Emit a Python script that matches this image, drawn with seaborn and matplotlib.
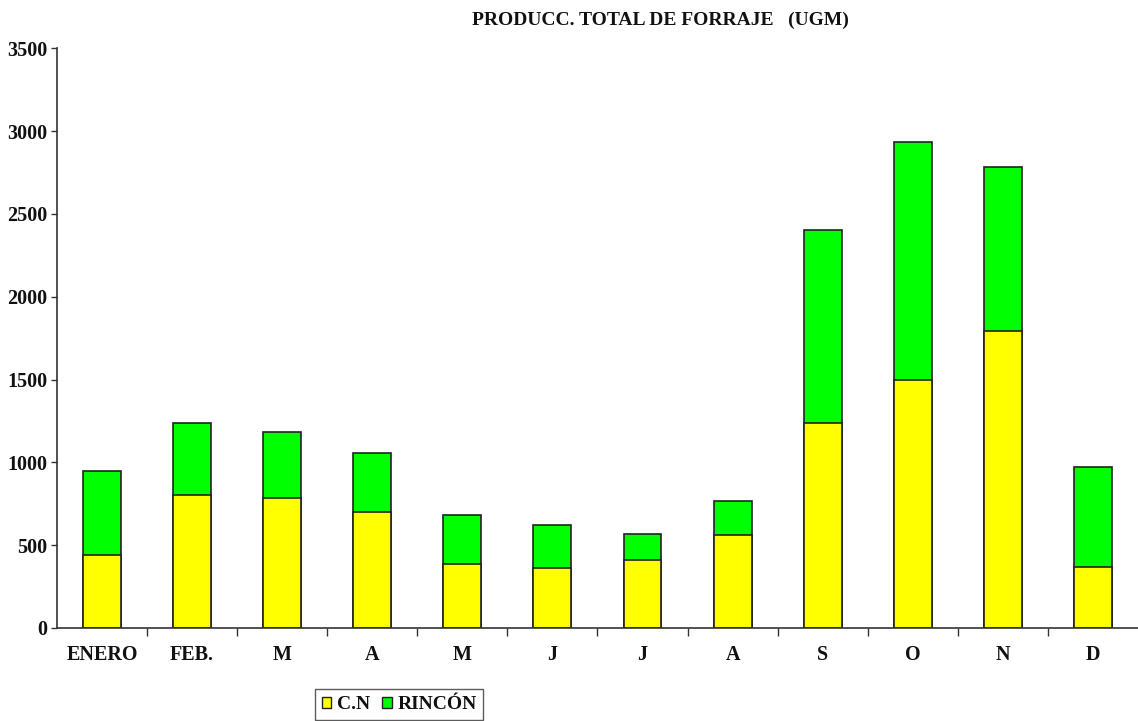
import matplotlib
matplotlib.use("Agg")
import matplotlib.pyplot as plt
import seaborn as sns
import pandas as pd
from matplotlib.patches import Patch

# Monthly forage production (UGM)
month_keys = ["ENE", "FEB", "MAR", "ABR", "MAY", "JUN", "JUL", "AGO", "SEP", "OCT", "NOV", "DIC"]
month_labels = ["ENERO", "FEB.", "M", "A", "M", "J", "J", "A", "S", "O", "N", "D"]
cn_values = [440, 800, 785, 700, 385, 365, 410, 560, 1235, 1495, 1795, 370]
rincon_values = [505, 440, 400, 355, 300, 255, 160, 205, 1170, 1440, 990, 605]

df = pd.DataFrame({
    "mes": month_keys,
    "cn": cn_values,
    "total": [c + r for c, r in zip(cn_values, rincon_values)],
})

sns.set_style("white")
plt.rcParams["font.family"] = ["Liberation Serif", "DejaVu Serif"]
plt.rcParams["font.weight"] = "bold"
plt.rcParams["text.color"] = "#111111"
plt.rcParams["xtick.color"] = "#111111"
plt.rcParams["ytick.color"] = "#111111"

fig = plt.figure(figsize=(11.38, 7.21), dpi=100)
ax = fig.add_axes([0.050, 0.129, 0.950, 0.804])

bar_w = 0.42
sns.barplot(data=df, x="mes", y="total", order=month_keys, color="#00ff00",
            width=bar_w, edgecolor="#222222", linewidth=1.2, saturation=1, ax=ax)
sns.barplot(data=df, x="mes", y="cn", order=month_keys, color="#ffff00",
            width=bar_w, edgecolor="#222222", linewidth=1.2, saturation=1, ax=ax)

ax.set_xlim(-0.5, 11.5)
ax.set_ylim(0, 3500)
ax.set_yticks(range(0, 3501, 500))
ax.set_yticklabels([str(v) for v in range(0, 3501, 500)], fontsize=14.5, fontweight="bold")
ax.set_xticks(range(12))
ax.set_xticklabels(month_labels, fontsize=14.5, fontweight="bold")
ax.set_xticks([i + 0.5 for i in range(11)], minor=True)
ax.tick_params(axis="x", which="major", bottom=True, length=0, pad=12)
ax.tick_params(axis="x", which="minor", bottom=True, length=6, width=1,
               color="#333333", direction="out")
ax.tick_params(axis="y", which="major", left=True, length=4, width=1,
               color="#333333", direction="out", pad=3)
ax.set_xlabel("")
ax.set_ylabel("")

for side in ["top", "right"]:
    ax.spines[side].set_visible(False)
for side in ["left", "bottom"]:
    ax.spines[side].set_color("#333333")
    ax.spines[side].set_linewidth(1.2)

fig.text(0.58, 0.972, "PRODUCC. TOTAL DE FORRAJE   (UGM)", ha="center", va="center",
         fontsize=14, fontweight="bold")

handles = [Patch(facecolor="#ffff00", edgecolor="#222222", label="C.N"),
           Patch(facecolor="#00ff00", edgecolor="#222222", label="RINCÓN")]
leg = fig.legend(handles=handles, loc="lower left", bbox_to_anchor=(0.268, -0.012),
                 ncol=2, frameon=True, fancybox=False, fontsize=14,
                 handlelength=0.5, handleheight=0.5, handletextpad=0.3,
                 columnspacing=0.6, borderpad=0.35)
leg.get_frame().set_edgecolor("#333333")
leg.get_frame().set_linewidth(1.0)
for t in leg.get_texts():
    t.set_fontweight("bold")

fig.savefig("out.png", dpi=100)
